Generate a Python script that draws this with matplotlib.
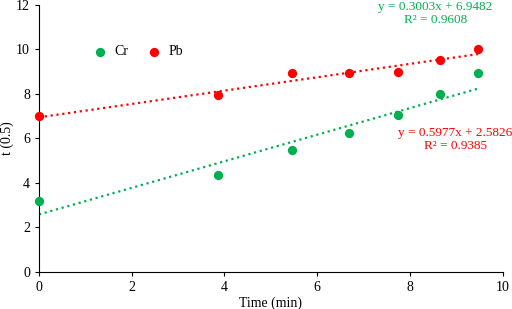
import numpy as np
import matplotlib

matplotlib.use("Agg")
from matplotlib import pyplot as plt

plt.rcParams['font.family'] = ['Liberation Serif', 'DejaVu Serif']

# data
time = [0, 3.87, 5.46, 6.69, 7.74, 8.64, 9.47]
cr = [3.2, 4.35, 5.48, 6.26, 7.04, 7.99, 8.94]
pb = [7.0, 7.94, 8.93, 8.96, 9.0, 9.51, 10.0]

# trendline coefficients as printed on the chart
cr_fit = [0.5977, 2.5826]
pb_fit = [0.3003, 6.9482]

green = '#00B050'
red = '#FF0000'

fig = plt.figure(figsize=(5.12, 3.09), dpi=100)
ax = fig.add_axes([0.076, 0.12, 0.906, 0.864])

xs = np.array([time[0], time[-1]])
ax.plot(xs, np.polyval(pb_fit, xs), ':', color=red, lw=1.6)
ax.plot(xs, np.polyval(cr_fit, xs), ':', color=green, lw=1.6)

ax.scatter(time, cr, s=32, color=green, label='Cr', zorder=3, clip_on=False)
ax.scatter(time, pb, s=32, color=red, label='Pb', zorder=3, clip_on=False)

ax.text(8.55, 11.62, 'y = 0.3003x + 6.9482\nR² = 0.9608', color=green,
        ha='center', va='center', fontsize=9.5, linespacing=1.05)
ax.text(8.98, 5.95, 'y = 0.5977x + 2.5826\nR² = 0.9385', color=red,
        ha='center', va='center', fontsize=9.5, linespacing=1.05)

ax.legend(loc='upper left', bbox_to_anchor=(0.09, 0.87), ncol=2, frameon=False,
          handletextpad=0.0, columnspacing=0.9, fontsize=10, borderaxespad=0)

ax.set_xlim(0, 10)
ax.set_ylim(0, 12)
ax.set_xticks(range(0, 11, 2))
ax.set_yticks(range(0, 13, 2))
for s in ['top', 'right']:
    ax.spines[s].set_visible(False)
ax.tick_params(labelsize=10, length=3, direction='out')
ax.set_xlabel('Time (min)', fontsize=10, labelpad=2)
ax.set_ylabel('t (0.5)', fontsize=10, labelpad=1)

fig.savefig('out.png', dpi=100)
